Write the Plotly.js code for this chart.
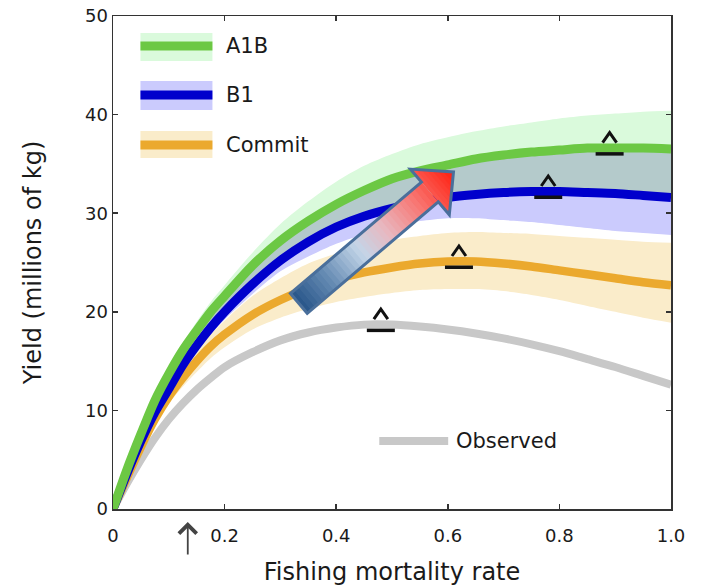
<!DOCTYPE html>
<html><head><meta charset="utf-8">
<script src="https://cdn.plot.ly/plotly-3.0.1.min.js"></script>
<style>html,body{margin:0;padding:0;background:#fff}#chart{width:702px;height:586px}</style>
</head><body><div id="chart"></div>
<script>
// ---------- data ----------
const fishingRate = [0, 0.025, 0.05, 0.075, 0.1, 0.125, 0.15, 0.175, 0.2, 0.25, 0.3, 0.35, 0.4, 0.45, 0.5, 0.55, 0.6, 0.65, 0.7, 0.75, 0.8, 0.85, 0.9, 0.95, 1.0];

const a1bYield = [0, 4.0, 7.6, 11.0, 13.7, 16.1, 18.1, 20.0, 21.6, 24.7, 27.2, 29.2, 30.9, 32.3, 33.5, 34.3, 34.9, 35.5, 35.9, 36.2, 36.4, 36.6, 36.6, 36.6, 36.5];
const a1bUpper = [0, 4.2, 8.0, 11.5, 14.3, 16.8, 19.0, 21.0, 22.7, 26.0, 28.9, 31.2, 33.2, 34.8, 36.0, 37.0, 37.7, 38.3, 38.8, 39.2, 39.6, 39.9, 40.1, 40.3, 40.4];
const a1bLower = [0, 3.6, 6.9, 9.8, 12.2, 14.6, 16.6, 18.4, 20.0, 22.8, 25.2, 27.1, 28.5, 29.6, 30.4, 31.0, 31.5, 31.8, 32.0, 32.1, 32.1, 32.0, 31.9, 31.7, 31.5];

const b1Yield = [0, 3.6, 6.9, 9.8, 12.2, 14.6, 16.6, 18.4, 20.0, 22.8, 25.2, 27.1, 28.6, 29.7, 30.5, 31.1, 31.6, 31.9, 32.1, 32.2, 32.2, 32.1, 32.0, 31.8, 31.6];
const b1Upper = [0, 3.9, 7.5, 10.9, 13.6, 16.0, 18.0, 19.9, 21.5, 24.6, 27.1, 29.1, 30.8, 32.2, 33.4, 34.2, 34.8, 35.4, 35.8, 36.1, 36.3, 36.5, 36.5, 36.5, 36.4];
const b1Lower = [0, 3.4, 6.6, 9.4, 11.8, 14.0, 15.9, 17.7, 19.2, 21.8, 24.1, 25.6, 26.9, 27.9, 28.7, 29.2, 29.5, 29.5, 29.3, 29.1, 28.8, 28.5, 28.2, 28.0, 27.8];

const commitYield = [0, 3.2, 6.3, 9.1, 11.4, 13.3, 15.0, 16.5, 17.7, 19.7, 21.2, 22.4, 23.3, 24.0, 24.5, 24.9, 25.1, 25.1, 24.9, 24.6, 24.2, 23.8, 23.4, 23.0, 22.7];
const commitUpper = [0, 3.4, 6.7, 9.6, 12.1, 14.2, 16.1, 17.7, 19.1, 21.6, 23.4, 24.9, 25.9, 26.7, 27.3, 27.7, 28.0, 28.1, 28.0, 27.9, 27.7, 27.5, 27.3, 27.1, 27.0];
const commitLower = [0, 3.0, 5.9, 8.5, 10.7, 12.4, 13.9, 15.3, 16.4, 18.2, 19.4, 20.3, 21.0, 21.5, 21.9, 22.2, 22.3, 22.3, 22.1, 21.7, 21.2, 20.6, 20.0, 19.4, 18.9];

const observedYield = [0, 2.6, 5.0, 7.2, 9.1, 10.7, 12.1, 13.3, 14.4, 15.9, 17.1, 17.9, 18.4, 18.7, 18.7, 18.5, 18.2, 17.8, 17.3, 16.7, 16.0, 15.2, 14.4, 13.5, 12.6];

const seriesNames = ['A1B', 'B1', 'Commit', 'Observed'];
const peakRate  = [0.89, 0.78, 0.62, 0.48];
const peakYield = [36.6, 32.2, 25.1, 18.7];

const xTickVals = [0, 0.2, 0.4, 0.6, 0.8, 1.0];
const xTickText = ['0', '0.2', '0.4', '0.6', '0.8', '1.0'];
const yTickVals = [0, 10, 20, 30, 40, 50];
const yTickText = ['0', '10', '20', '30', '40', '50'];
const currentRate = 0.134;

// ---------- styles ----------
const FONT = 'DejaVu Sans, Verdana, sans-serif';
const TXT = '#1a1a1a';
const col = {
  A1B: {line: '#6cc844', band: '#dafadc'},
  B1: {line: '#0000cc', band: '#cbcbfd'},
  Commit: {line: '#eba92e', band: '#faecca'},
  Observed: {line: '#c8c8c8'},
  overlap: '#b4cacb'
};

const overlapLow = a1bLower.map((v, i) => Math.max(v, b1Lower[i]));
const overlapHigh = a1bUpper.map((v, i) => Math.max(Math.min(v, b1Upper[i]), overlapLow[i]));

function edge(y) {
  return {x: fishingRate, y: y, mode: 'lines', line: {width: 0, shape: 'spline', smoothing: 0.8}, hoverinfo: 'skip', showlegend: false};
}
function band(y, color) {
  return {x: fishingRate, y: y, mode: 'lines', fill: 'tonexty', fillcolor: color, line: {width: 0, shape: 'spline', smoothing: 0.8}, hoverinfo: 'skip', showlegend: false};
}
function curve(y, color, w, name) {
  return {x: fishingRate, y: y, name: name, mode: 'lines', line: {color: color, width: w, shape: 'spline', smoothing: 0.8}, showlegend: false};
}

const traces = [
  edge(a1bLower), band(a1bUpper, col.A1B.band),
  edge(b1Lower), band(b1Upper, col.B1.band),
  edge(overlapLow), band(overlapHigh, col.overlap),
  edge(commitLower), band(commitUpper, col.Commit.band),
  curve(observedYield, col.Observed.line, 8, seriesNames[3]),
  curve(commitYield, col.Commit.line, 8.5, seriesNames[2]),
  curve(b1Yield, col.B1.line, 9, seriesNames[1]),
  curve(a1bYield, col.A1B.line, 9, seriesNames[0])
];

// ---------- shapes ----------
const shapes = [];

// peak markers (caret above, bar below each curve's maximum)
for (let i = 0; i < peakRate.length; i++) {
  shapes.push({type: 'rect', xref: 'x', yref: 'y', xsizemode: 'pixel', ysizemode: 'pixel',
    xanchor: peakRate[i], yanchor: peakYield[i], x0: -14, x1: 14, y0: -4, y1: -7.5,
    fillcolor: '#111', line: {width: 0}, layer: 'above'});
  shapes.push({type: 'path', xref: 'x', yref: 'y', xsizemode: 'pixel', ysizemode: 'pixel',
    xanchor: peakRate[i], yanchor: peakYield[i], path: 'M-7,5.5L0,15.5L7,5.5',
    line: {color: '#111', width: 3}, layer: 'above'});
}

// custom legend
const legendRows = [
  {name: 'A1B', y: 0.9391, y0: 0.9087, y1: 0.9655},
  {name: 'B1', y: 0.8398, y0: 0.8093, y1: 0.8682},
  {name: 'Commit', y: 0.7383, y0: 0.712, y1: 0.7667}
];
const annotations = [];
legendRows.forEach(r => {
  shapes.push({type: 'rect', xref: 'paper', yref: 'paper', x0: 0.0492, x1: 0.1782, y0: r.y0, y1: r.y1,
    fillcolor: col[r.name].band, line: {width: 0}, layer: 'above'});
  shapes.push({type: 'line', xref: 'paper', yref: 'paper', x0: 0.0492, x1: 0.1782, y0: r.y, y1: r.y,
    line: {color: col[r.name].line, width: 9}, layer: 'above'});
  annotations.push({xref: 'paper', yref: 'paper', x: 0.1985, y: r.y, xanchor: 'left', yanchor: 'middle',
    text: r.name, showarrow: false, font: {family: FONT, size: 21, color: TXT}});
});
shapes.push({type: 'line', xref: 'paper', yref: 'paper', x0: 0.4772, x1: 0.6007, y0: 0.1379, y1: 0.1379,
  line: {color: col.Observed.line, width: 8}, layer: 'above'});
annotations.push({xref: 'paper', yref: 'paper', x: 0.6105, y: 0.1379, xanchor: 'left', yanchor: 'middle',
  text: seriesNames[3], showarrow: false, font: {family: FONT, size: 21, color: TXT}});

// arrow marking current fishing mortality
annotations.push({xref: 'x', yref: 'paper', x: currentRate, y: -0.0264, text: '', showarrow: true,
  ax: 0, ay: 34, arrowhead: 4, arrowsize: 1.9, arrowwidth: 1.8, arrowcolor: '#444'});

// big gradient block arrow (decoration)
const arrowAnchor = {x: 0.333, y: 20.85};
const u = [0.762, 0.648], n = [-0.648, 0.762];
const bodyHW = 13, headHW = 30, bodyLen = 172, headLen = 31, total = bodyLen + headLen;
const stops = [[0, [38, 84, 136]], [0.2, [104, 141, 181]], [0.4, [195, 213, 232]], [0.56, [232, 184, 192]], [0.76, [248, 120, 116]], [1, [255, 30, 14]]];
function gcol(t) {
  for (let k = 1; k < stops.length; k++) {
    if (t <= stops[k][0]) {
      const a = stops[k - 1], b = stops[k], f = (t - a[0]) / (b[0] - a[0]);
      const c = a[1].map((v, j) => Math.round(v + f * (b[1][j] - v)));
      return 'rgb(' + c.join(',') + ')';
    }
  }
  return 'rgb(255,30,14)';
}
function P(s, w) { return (s * u[0] + w * n[0]).toFixed(2) + ',' + (s * u[1] + w * n[1]).toFixed(2); }
function arrowShape(path, extra) {
  return Object.assign({type: 'path', xref: 'x', yref: 'y', xsizemode: 'pixel', ysizemode: 'pixel',
    xanchor: arrowAnchor.x, yanchor: arrowAnchor.y, path: path, layer: 'above'}, extra);
}
const NB = 34, NH = 8;
for (let k = 0; k < NB; k++) {
  const s0 = bodyLen * k / NB, s1 = Math.min(bodyLen, bodyLen * (k + 1) / NB + 0.7);
  shapes.push(arrowShape('M' + P(s0, -bodyHW) + 'L' + P(s1, -bodyHW) + 'L' + P(s1, bodyHW) + 'L' + P(s0, bodyHW) + 'Z',
    {fillcolor: gcol((s0 + s1) / 2 / total), line: {width: 0}}));
}
for (let k = 0; k < NH; k++) {
  const s0 = bodyLen + headLen * k / NH, s1 = Math.min(total, bodyLen + headLen * (k + 1) / NH + 0.7);
  const w0 = headHW * (1 - (s0 - bodyLen) / headLen), w1 = headHW * (1 - (s1 - bodyLen) / headLen);
  shapes.push(arrowShape('M' + P(s0, -w0) + 'L' + P(s1, -w1) + 'L' + P(s1, w1) + 'L' + P(s0, w0) + 'Z',
    {fillcolor: gcol((s0 + s1) / 2 / total), line: {width: 0}}));
}
shapes.push(arrowShape('M' + P(0, -bodyHW) + 'L' + P(bodyLen, -bodyHW) + 'L' + P(bodyLen, -headHW) + 'L' + P(total, 0) +
  'L' + P(bodyLen, headHW) + 'L' + P(bodyLen, bodyHW) + 'L' + P(0, bodyHW) + 'Z',
  {fillcolor: 'rgba(0,0,0,0)', line: {color: '#4a6f9b', width: 3}}));

// ---------- layout ----------
const axisCommon = {
  showline: true, linecolor: '#333', linewidth: 1.5, mirror: 'ticks',
  ticks: 'inside', ticklen: 5, tickwidth: 1.5, tickcolor: '#333',
  showgrid: false, zeroline: false,
  tickfont: {family: FONT, size: 18, color: TXT}
};
const layout = {
  width: 702, height: 586,
  margin: {l: 113, r: 31, t: 16, b: 77},
  paper_bgcolor: '#fff', plot_bgcolor: '#fff',
  showlegend: false,
  xaxis: Object.assign({}, axisCommon, {range: [0, 1], tickvals: xTickVals, ticktext: xTickText,
    ticklabelstandoff: 10,
    title: {text: 'Fishing mortality rate', font: {family: FONT, size: 24, color: TXT}, standoff: 18}}),
  yaxis: Object.assign({}, axisCommon, {range: [0, 50], tickvals: yTickVals, ticktext: yTickText,
    title: {text: 'Yield (millions of kg)', font: {family: FONT, size: 24, color: TXT}, standoff: 36}}),
  shapes: shapes,
  annotations: annotations
};

Plotly.newPlot('chart', traces, layout, {staticPlot: true, displayModeBar: false});
</script>
</body></html>
